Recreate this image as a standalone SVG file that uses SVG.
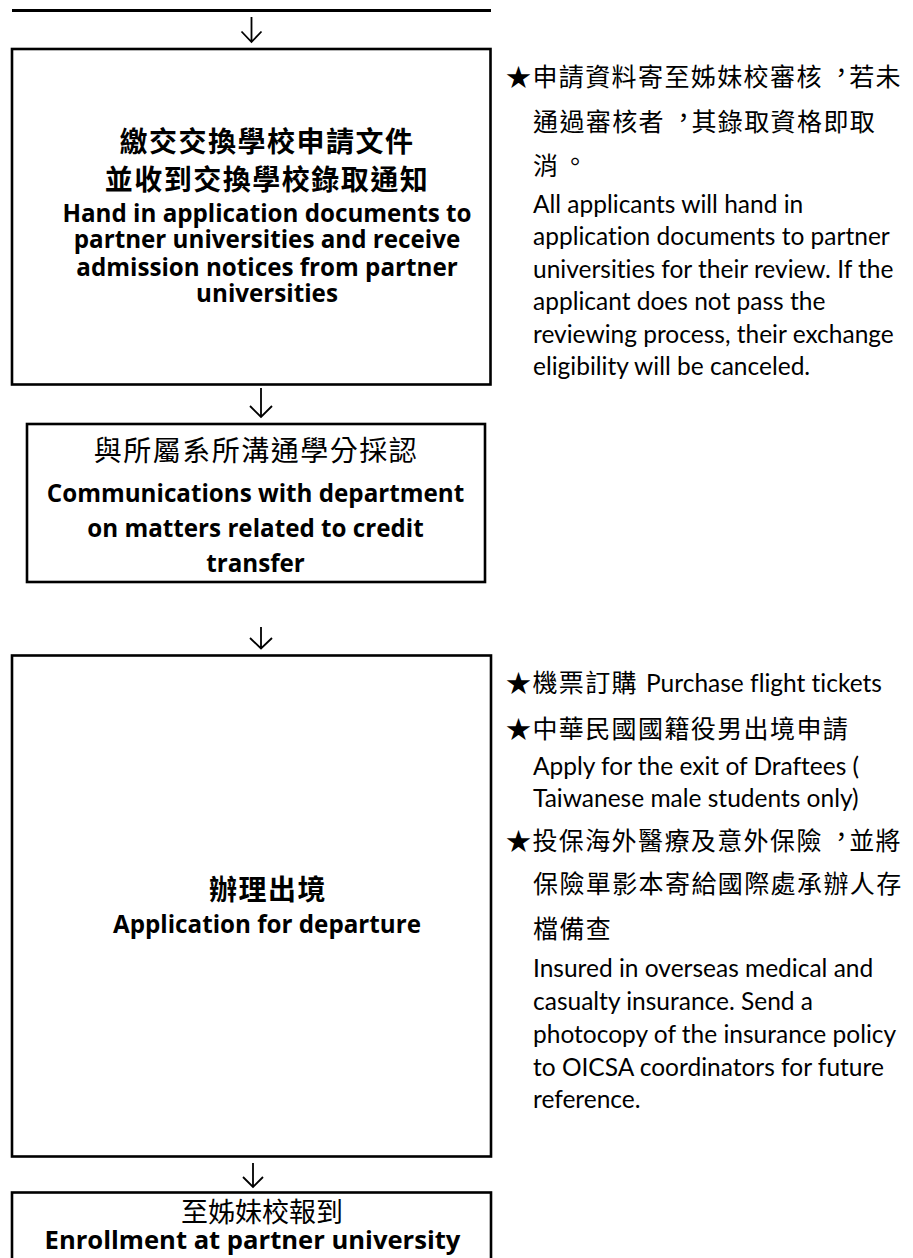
<svg xmlns="http://www.w3.org/2000/svg" width="913" height="1258" viewBox="0 0 913 1258" xml:lang="zh-Hant-TW" lang="zh-Hant-TW">
<style>
.box{fill:#fff;stroke:#000;stroke-width:2.6}
.arr{fill:none;stroke:#000;stroke-width:1.8}
.zhb{font-family:"Noto Sans CJK TC","Noto Sans CJK SC",sans-serif;font-size:28px;letter-spacing:1.5px;fill:#000;text-anchor:middle}
.enb{font-family:"Open Sans",Lato,sans-serif;font-weight:700;font-size:24.2px;fill:#000;text-anchor:middle;font-variant-ligatures:none}
.en{font-family:Lato,"Open Sans",sans-serif;font-size:24.5px;fill:#000;font-variant-ligatures:none}
.note{font-family:"Noto Sans CJK TC","Noto Sans CJK SC",sans-serif;font-size:25px;letter-spacing:1.4px;fill:#000}
</style>
<rect width="913" height="1258" fill="#fff"/>
<line x1="12" y1="10.5" x2="491" y2="10.5" stroke="#000" stroke-width="2.8"/>
<g id="connectors">
<path class="arr" d="M251.5,17 V42 M241.5,31.5 L251.5,42 L261.5,31.5"/>
<path class="arr" d="M261,388 V417 M250,406 L261,417 L272,406"/>
<path class="arr" d="M261,627 V648.5 M250,638 L261,648.5 L272,638"/>
<path class="arr" d="M253,1163 V1187 M243,1177 L253,1187 L263,1177"/>
</g>
<g id="node1">
<rect class="box" x="12" y="49" width="478.5" height="335.5"/>
<text class="zhb" x="267" y="152" font-weight="700">繳交交換學校申請文件</text>
<text class="zhb" x="267" y="190" font-weight="700">並收到交換學校錄取通知</text>
<text class="enb" x="267" y="221.7">Hand in application documents to</text>
<text class="enb" x="267" y="248.3">partner universities and receive</text>
<text class="enb" x="267" y="275.7">admission notices from partner</text>
<text class="enb" x="267" y="301.7">universities</text>
</g>
<g id="note1">
<text class="note" x="506" y="86">★申請資料寄至姊妹校審核<tspan dx="6" dy="-4">，</tspan><tspan dx="-6" dy="4">若未</tspan></text>
<text class="note" x="533" y="131">通過審核者<tspan dx="6" dy="-4">，</tspan><tspan dx="-6" dy="4">其錄取資格即取</tspan></text>
<text class="note" x="533" y="175">消<tspan dx="3" dy="-4">。</tspan></text>
<text class="en" x="533" y="213.3">All applicants will hand in</text>
<text class="en" x="533" y="245">application documents to partner</text>
<text class="en" x="533" y="278.3">universities for their review. If the</text>
<text class="en" x="533" y="310">applicant does not pass the</text>
<text class="en" x="533" y="343.3">reviewing process, their exchange</text>
<text class="en" x="533" y="375">eligibility will be canceled.</text>
</g>
<g id="node2">
<rect class="box" x="27" y="424" width="458" height="158"/>
<text class="zhb" x="256" y="461">與所屬系所溝通學分採認</text>
<text class="enb" x="255.5" y="501.7">Communications with department</text>
<text class="enb" x="255.5" y="536.7">on matters related to credit</text>
<text class="enb" x="255.5" y="571.7">transfer</text>
</g>
<g id="node3">
<rect class="box" x="12" y="655.5" width="479" height="501"/>
<text class="zhb" x="268" y="900" font-weight="700">辦理出境</text>
<text class="enb" x="267" y="932.7">Application for departure</text>
</g>
<g id="note2">
<text x="506" y="692"><tspan class="note">★機票訂購</tspan><tspan class="en" x="646">Purchase flight tickets</tspan></text>
<text class="note" x="506" y="738">★中華民國國籍役男出境申請</text>
<text class="en" x="533" y="775">Apply for the exit of Draftees (</text>
<text class="en" x="533" y="806.7">Taiwanese male students only)</text>
<text class="note" x="506" y="850">★投保海外醫療及意外保險<tspan dx="6" dy="-4">，</tspan><tspan dx="-6" dy="4">並將</tspan></text>
<text class="note" x="533" y="893">保險單影本寄給國際處承辦人存</text>
<text class="note" x="533" y="938">檔備查</text>
<text class="en" x="533" y="976.7">Insured in overseas medical and</text>
<text class="en" x="533" y="1010">casualty insurance. Send a</text>
<text class="en" x="533" y="1043">photocopy of the insurance policy</text>
<text class="en" x="533" y="1076">to OICSA coordinators for future</text>
<text class="en" x="533" y="1108">reference.</text>
</g>
<g id="node4">
<rect class="box" x="12" y="1192.5" width="479" height="100"/>
<text class="zhb" x="262" y="1222" style="font-size:27px;letter-spacing:0">至姊妹校報到</text>
<text class="enb" x="252.5" y="1249" style="font-size:25.6px">Enrollment at partner university</text>
</g>
</svg>
